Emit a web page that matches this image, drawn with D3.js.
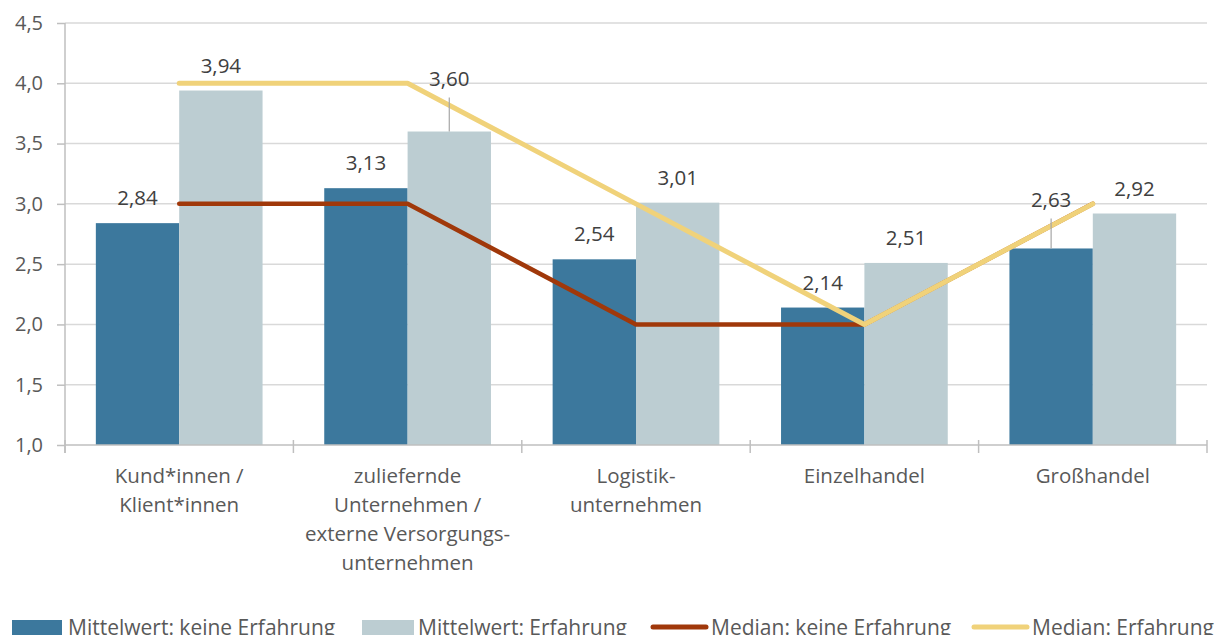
<!DOCTYPE html>
<html>
<head>
<meta charset="utf-8">
<script src="https://cdn.jsdelivr.net/npm/d3@7"></script>
<style>
  body { margin: 0; background: #fff; }
  svg { display: block; font-family: "Open Sans", sans-serif; }
</style>
</head>
<body>
<svg id="chart"></svg>
<script>
/* data */
var categories = [
  ["Kund*innen /", "Klient*innen"],
  ["zuliefernde", "Unternehmen /", "externe Versorgungs-", "unternehmen"],
  ["Logistik-", "unternehmen"],
  ["Einzelhandel"],
  ["Großhandel"]
];
var meanNone = [2.84, 3.13, 2.54, 2.14, 2.63];
var meanExp = [3.94, 3.60, 3.01, 2.51, 2.92];
var medianNone = [3, 3, 2, 2, 3];
var medianExp = [4, 4, 3, 2, 3];
var yTicks = [1.0, 1.5, 2.0, 2.5, 3.0, 3.5, 4.0, 4.5];
var legendLabels = ["Mittelwert: keine Erfahrung", "Mittelwert: Erfahrung", "Median: keine Erfahrung", "Median: Erfahrung"];

/* settings */
var width = 1214, height = 635,
    margin = { top: 23, right: 7, bottom: 190, left: 65 },
    colors = { none: "#3c789d", exp: "#bccdd2", medNone: "#a0380a", medExp: "#f0d27a" },
    labelGap = 25,
    // labels lifted above the median line, with a leader line
    raised = { "exp-1": 53, "none-4": 49 },
    fmt = function (v) { return d3.format(".2f")(v).replace(".", ","); };

var innerWidth = width - margin.left - margin.right;
var innerHeight = height - margin.top - margin.bottom;

var svg = d3.select("#chart").attr("width", width).attr("height", height);
var g = svg.append("g").attr("transform", "translate(" + margin.left + "," + margin.top + ")");

var keys = categories.map(function (d, i) { return i; });

var xScale = d3.scaleBand().domain(keys).range([0, innerWidth]).padding(0);
var xSub = d3.scaleBand().domain(["none", "exp"]).range([0, xScale.bandwidth()]).paddingInner(0).paddingOuter(0.37);
var yScale = d3.scaleLinear().domain([1, 4.5]).range([innerHeight, 0]);

/* gridlines */
g.append("g").selectAll("line")
  .data(yTicks.slice(1))
  .enter().append("line")
    .attr("x1", 0).attr("x2", innerWidth)
    .attr("y1", function (d) { return yScale(d); })
    .attr("y2", function (d) { return yScale(d); })
    .attr("stroke", "#d9d9d9").attr("stroke-width", 1.5);

/* bars */
var rows = keys.map(function (i) {
  return [
    { i: i, s: "none", v: meanNone[i] },
    { i: i, s: "exp", v: meanExp[i] }
  ];
});
var flat = [].concat.apply([], rows);

g.append("g").selectAll("rect")
  .data(flat)
  .enter().append("rect")
    .attr("x", function (d) { return xScale(d.i) + xSub(d.s); })
    .attr("y", function (d) { return yScale(d.v); })
    .attr("width", xSub.bandwidth())
    .attr("height", function (d) { return innerHeight - yScale(d.v); })
    .attr("fill", function (d) { return colors[d.s]; });

/* y-axis */
var yAxis = d3.axisLeft(yScale).tickValues(yTicks).tickSize(8).tickPadding(14)
  .tickFormat(function (d) { return d3.format(".1f")(d).replace(".", ","); });
var yAxisG = g.append("g").call(yAxis);
yAxisG.select(".domain").attr("stroke", "#bfbfbf").attr("stroke-width", 1.5)
  .attr("d", "M0," + (innerHeight + 8) + "V0");
yAxisG.selectAll(".tick line").attr("stroke", "#bfbfbf").attr("stroke-width", 1.5);
yAxisG.selectAll(".tick text").attr("fill", "#595959").style("font-size", "20px")
  .style("font-family", "'Open Sans', sans-serif");

/* x-axis */
var xAxisG = g.append("g").attr("transform", "translate(0," + innerHeight + ")");
xAxisG.append("line").attr("x1", 0).attr("x2", innerWidth)
  .attr("stroke", "#bfbfbf").attr("stroke-width", 1.5);
xAxisG.selectAll(".sep")
  .data(keys.concat([keys.length]))
  .enter().append("line")
    .attr("class", "sep")
    .attr("x1", function (d) { return d * xScale.step(); })
    .attr("x2", function (d) { return d * xScale.step(); })
    .attr("y1", -5).attr("y2", 8)
    .attr("stroke", "#bfbfbf").attr("stroke-width", 1.5);

xAxisG.selectAll(".cat")
  .data(keys)
  .enter().append("text")
    .attr("class", "cat")
    .attr("text-anchor", "middle")
    .attr("fill", "#595959")
    .style("font-size", "20.5px")
    .each(function (i) {
      var t = d3.select(this);
      categories[i].forEach(function (line, k) {
        t.append("tspan")
          .attr("x", xScale(i) + xScale.bandwidth() / 2)
          .attr("y", 38 + k * 29)
          .text(line);
      });
    });

/* median lines */
var line = d3.line()
  .x(function (d, i) { return xScale(i) + xScale.bandwidth() / 2; })
  .y(function (d) { return yScale(d); });

g.append("path").datum(medianNone)
  .attr("d", line).attr("fill", "none")
  .attr("stroke", colors.medNone).attr("stroke-width", 4.5)
  .attr("stroke-linecap", "round").attr("stroke-linejoin", "round");

g.append("path").datum(medianExp)
  .attr("d", line).attr("fill", "none")
  .attr("stroke", colors.medExp).attr("stroke-width", 5)
  .attr("stroke-linecap", "round").attr("stroke-linejoin", "round");

/* value labels */
var labels = g.append("g").selectAll("g.lab")
  .data(flat)
  .enter().append("g").attr("class", "lab");

labels.each(function (d) {
  var cx = xScale(d.i) + xSub(d.s) + xSub.bandwidth() / 2;
  var top = yScale(d.v);
  var off = raised[d.s + "-" + d.i];
  var el = d3.select(this);
  if (off) {
    el.append("line")
      .attr("x1", cx).attr("x2", cx)
      .attr("y1", top - off + 19).attr("y2", top)
      .attr("stroke", "#a6a6a6").attr("stroke-width", 1.2);
  }
  el.append("text")
    .attr("x", cx)
    .attr("y", top - (off || labelGap))
    .attr("dy", "0.35em")
    .attr("text-anchor", "middle")
    .attr("fill", "#404040")
    .style("font-size", "20.5px")
    .text(fmt(d.v));
});

/* legend */
var legendX = [12, 362, 651, 972];
var legend = svg.append("g").attr("transform", "translate(0,627)");
var items = legend.selectAll("g")
  .data(legendLabels)
  .enter().append("g")
    .attr("transform", function (d, i) { return "translate(" + legendX[i] + ",0)"; });

items.each(function (d, i) {
  var el = d3.select(this);
  if (i < 2) {
    el.append("rect").attr("x", 0).attr("y", -7).attr("width", i == 0 ? 50 : 52).attr("height", 16)
      .attr("fill", i == 0 ? colors.none : colors.exp);
  } else {
    el.append("line").attr("x1", 2).attr("x2", 55).attr("y1", 0).attr("y2", 0)
      .attr("stroke", i == 2 ? colors.medNone : colors.medExp)
      .attr("stroke-width", 5).attr("stroke-linecap", "round");
  }
  el.append("text")
    .attr("x", i == 0 ? 56 : (i == 1 ? 56 : 60))
    .attr("y", 8)
    .attr("fill", "#595959")
    .style("font-size", "21px")
    .text(d);
});
</script>
</body>
</html>
